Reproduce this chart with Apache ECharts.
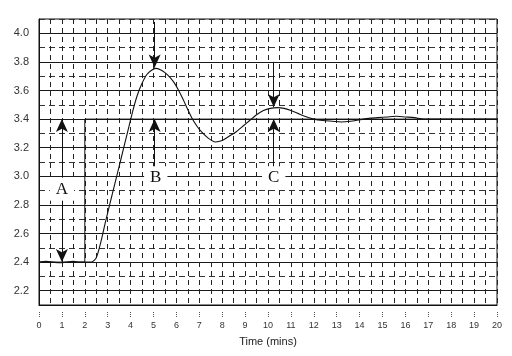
<!DOCTYPE html>
<html><head><meta charset="utf-8">
<script src="https://cdn.jsdelivr.net/npm/echarts@6/dist/echarts.min.js"></script>
<style>html,body{margin:0;padding:0;background:#fff}#c{width:512px;height:356px}</style>
</head><body><div id="c"></div>
<script>
// Process variable response (time in mins, value)
const pvTime = [0,0.3,0.6,0.9,1.2,1.5,1.8,2.1,2.3,2.5,2.7,2.9,3.1,3.3,3.5,3.7,3.9,4.1,4.3,4.5,4.7,4.9,5.1,5.3,5.5,5.7,5.9,6.1,6.3,6.5,6.7,6.9,7.1,7.4,7.7,8.0,8.3,8.6,8.9,9.2,9.5,9.8,10.1,10.4,10.7,11.0,11.3,11.6,12.0,12.4,12.8,13.2,13.6,14.0,14.4,14.8,15.2,15.6,16.0,16.4,16.8,17.5,18.5,20];
const pvValue = [2.40,2.405,2.40,2.395,2.40,2.405,2.40,2.40,2.40,2.43,2.54,2.68,2.81,2.94,3.07,3.20,3.33,3.46,3.57,3.65,3.71,3.74,3.755,3.745,3.725,3.695,3.655,3.60,3.535,3.465,3.40,3.35,3.31,3.265,3.24,3.25,3.28,3.31,3.35,3.39,3.43,3.46,3.475,3.48,3.475,3.46,3.44,3.42,3.40,3.39,3.385,3.38,3.385,3.395,3.405,3.41,3.415,3.42,3.415,3.41,3.40,3.40,3.40,3.40];
// Set point step
const spTime = [0,2,2,20];
const spValue = [2.4,2.4,3.4,3.4];
// Annotations
const annNames = ['A','B','C'];
const annX = [1.0,5.1,10.25];
const annY = [2.91,2.99,2.99];
// arrow segments: [x, yFrom, yTo] (arrow at yTo)
const arrowSegs = [[1.0,2.91,3.4],[1.0,2.91,2.4],[5.05,4.08,3.76],[5.05,2.99,3.4],[10.25,3.8,3.485],[10.25,2.99,3.4]];
const xTicks = [0,1,2,3,4,5,6,7,8,9,10,11,12,13,14,15,16,17,18,19,20];
const yLabels = [2.2,2.4,2.6,2.8,3.0,3.2,3.4,3.6,3.8,4.0];

const chart = echarts.init(document.getElementById('c'), null, {renderer:'canvas'});
const yMin = 2.1, yMax = 4.1;
const font = 'Liberation Sans';
const option = {
  animation:false,
  backgroundColor:'#fff',
  grid:{left:39,right:15,top:19,bottom:51,show:true,borderColor:'#111',borderWidth:1,backgroundColor:'transparent'},
  xAxis:[{
    type:'value',min:xTicks[0],max:xTicks[xTicks.length-1],interval:1,
    name:'Time (mins)',nameLocation:'middle',nameGap:31,
    nameTextStyle:{fontFamily:font,fontSize:11,color:'#222'},
    axisLine:{show:true,lineStyle:{color:'#111',width:1}},
    axisTick:{show:false},
    axisLabel:{fontFamily:font,fontSize:9,color:'#333',margin:16,formatter:v=>xTicks.includes(v)?String(v):''},
    splitLine:{show:true,lineStyle:{color:'#222',type:[5,4],width:1}},
    minorTick:{show:false,splitNumber:2},
    minorSplitLine:{show:true,lineStyle:{color:'#222',type:[5,4],width:1}}
  },{
    type:'value',min:xTicks[0],max:xTicks[xTicks.length-1],interval:1,position:'bottom',offset:7,
    axisLine:{show:false},axisLabel:{show:false},splitLine:{show:false},
    axisTick:{show:true,length:5,inside:false,lineStyle:{color:'#555',type:[1,1]}}
  }],
  yAxis:[{
    type:'value',min:yMin,max:yMax,interval:0.1,
    axisLine:{show:true,lineStyle:{color:'#111'}},
    axisTick:{show:false},
    axisLabel:{fontFamily:font,fontSize:11,color:'#333',margin:10,
      formatter:v=>{const k=Math.round(v*10);return yLabels.some(l=>Math.round(l*10)===k)?(k/10).toFixed(1):'';}},
    splitLine:{show:true,lineStyle:{color:['rgba(0,0,0,0)','#1a1a1a'],width:1.2,type:'solid'}}
  },{
    type:'value',min:yMin,max:yMax,interval:0.1,position:'left',
    axisLine:{show:false},axisTick:{show:false},axisLabel:{show:false},
    splitLine:{show:true,lineStyle:{color:['#333','rgba(0,0,0,0)'],width:1,type:[6,4]}}
  }],
  series:[
    {type:'line',xAxisIndex:0,yAxisIndex:0,data:spTime.map((t,i)=>[t,spValue[i]]),symbol:'none',
     lineStyle:{color:'#111',width:1},z:3},
    {type:'line',xAxisIndex:0,yAxisIndex:0,data:pvTime.map((t,i)=>[t,pvValue[i]]),symbol:'none',smooth:0.25,
     lineStyle:{color:'#111',width:1.1},z:4,
     markLine:{silent:true,symbol:['none','arrow'],symbolSize:[9,13],label:{show:false},
       lineStyle:{color:'#111',width:1,type:'solid'},
       data:arrowSegs.map(s=>[{coord:[s[0],s[1]]},{coord:[s[0],s[2]]}])}},
    {type:'scatter',xAxisIndex:0,yAxisIndex:0,symbolSize:1,z:10,silent:true,
     itemStyle:{opacity:0},
     data:annNames.map((n,i)=>({name:n,value:[annX[i],annY[i]]})),
     label:{show:true,position:'inside',formatter:p=>p.name,fontFamily:'Liberation Serif',fontSize:17,color:'#111',opacity:1,
       textBorderWidth:0,backgroundColor:'#fff',padding:[3,6,3,6]}}
  ]
};
chart.setOption(option);
</script></body></html>
